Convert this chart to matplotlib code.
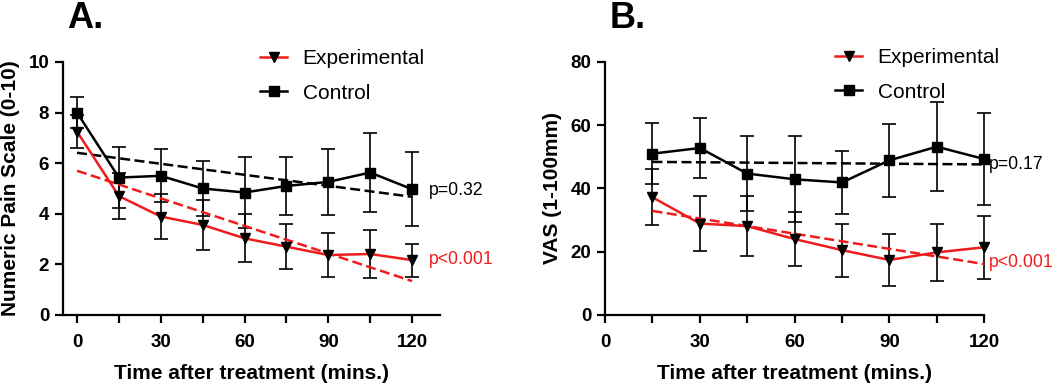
import matplotlib
matplotlib.use("Agg")
import matplotlib.pyplot as plt

plt.rcParams['font.family'] = ['Liberation Sans', 'DejaVu Sans']

# Panel A: numeric pain scale
time_a = [0, 15, 30, 45, 60, 75, 90, 105, 120]
exp_a = [7.25, 4.70, 3.89, 3.56, 3.03, 2.70, 2.37, 2.41, 2.17]
exp_a_err = [0.65, 0.92, 0.90, 1.00, 0.95, 0.90, 0.88, 0.93, 0.65]
ctl_a = [8.0, 5.43, 5.50, 5.00, 4.84, 5.10, 5.26, 5.63, 4.97]
ctl_a_err = [0.62, 1.20, 1.05, 1.10, 1.42, 1.13, 1.30, 1.57, 1.47]
fit_x_a = [0, 120]
exp_fit_a = [5.70, 1.34]
ctl_fit_a = [6.41, 4.67]

# Panel B: VAS
time_b = [15, 30, 45, 60, 75, 90, 105, 120]
exp_b = [37.2, 28.9, 28.1, 24.0, 20.5, 17.4, 19.8, 21.4]
exp_b_err = [8.8, 8.8, 9.6, 8.6, 8.4, 8.2, 9.0, 10.0]
ctl_b = [51.0, 52.8, 44.7, 42.9, 41.9, 48.9, 53.2, 49.3]
ctl_b_err = [9.7, 9.6, 11.8, 13.6, 10.0, 11.6, 14.0, 14.5]
fit_x_b = [15, 120]
exp_fit_b = [32.9, 16.1]
ctl_fit_b = [48.4, 47.6]

RED = '#ee1c1c'

fig = plt.figure(figsize=(10.56, 3.84), dpi=100)
ax_a = fig.add_axes([0.0597, 0.1797, 0.357, 0.659])
ax_b = fig.add_axes([0.573, 0.1797, 0.359, 0.659])


def draw(ax, t, e, ee, c, ce, fx, efit, cfit, leg_xy):
    ax.errorbar(t, c, yerr=ce, fmt='none', ecolor='black', elinewidth=1.2,
                capsize=5, capthick=1.2, zorder=2, clip_on=False)
    ax.errorbar(t, e, yerr=ee, fmt='none', ecolor='black', elinewidth=1.2,
                capsize=5, capthick=1.2, zorder=2, clip_on=False)
    ax.plot(fx, cfit, color='black', lw=1.8, ls=(0, (4, 1.8)), zorder=3, clip_on=False)
    ax.plot(fx, efit, color=RED, lw=1.8, ls=(0, (4, 1.8)), zorder=3, clip_on=False)
    ax.plot(t, e, color=RED, lw=1.8, marker='v', ms=7, mfc='black', mec='black',
            label='Experimental', zorder=4, clip_on=False)
    ax.plot(t, c, color='black', lw=1.8, marker='s', ms=7, mfc='black', mec='black',
            label='Control', zorder=4, clip_on=False)
    for s in ['top', 'right']:
        ax.spines[s].set_visible(False)
    for s in ['left', 'bottom']:
        ax.spines[s].set_linewidth(1.6)
    ax.tick_params(width=1.6, length=6, labelsize=13.5)
    ax.tick_params(axis='x', pad=8)
    ax.tick_params(axis='y', pad=4)
    ax.set_xticks(range(0, 121, 15))
    ax.set_xticklabels([str(v) if v % 30 == 0 else '' for v in range(0, 121, 15)],
                       fontweight='bold')
    ax.set_xlabel('Time after treatment (mins.)', fontsize=15, fontweight='bold', labelpad=9)
    ax.legend(loc='upper left', bbox_to_anchor=leg_xy, bbox_transform=fig.transFigure,
              frameon=False, fontsize=15, handlelength=1.3, handletextpad=0.75,
              labelspacing=0.75, borderpad=0, borderaxespad=0)


draw(ax_a, time_a, exp_a, exp_a_err, ctl_a, ctl_a_err, fit_x_a, exp_fit_a, ctl_fit_a,
     (260 / 1056, 1 - 49 / 384))
ax_a.set_xlim(-5, 130)
ax_a.set_ylim(0, 10)
ax_a.set_yticks([0, 2, 4, 6, 8, 10])
ax_a.set_yticklabels(['0', '2', '4', '6', '8', '10'], fontweight='bold')
ax_a.set_ylabel('Numeric Pain Scale (0-10)', fontsize=15, fontweight='bold', labelpad=6)
ax_a.text(126, 4.9, 'p=0.32', fontsize=12.7, color='black', va='center', ha='left')
ax_a.text(126, 2.2, 'p<0.001', fontsize=12.7, color=RED, va='center', ha='left')

draw(ax_b, time_b, exp_b, exp_b_err, ctl_b, ctl_b_err, fit_x_b, exp_fit_b, ctl_fit_b,
     (835 / 1056, 1 - 48 / 384))
ax_b.set_xlim(0, 120)
ax_b.set_ylim(0, 80)
ax_b.set_yticks([0, 20, 40, 60, 80])
ax_b.set_yticklabels(['0', '20', '40', '60', '80'], fontweight='bold')
ax_b.set_ylabel('VAS (1-100mm)', fontsize=15, fontweight='bold', labelpad=6)
ax_b.text(121.5, 47.6, 'p=0.17', fontsize=12.7, color='black', va='center', ha='left')
ax_b.text(121.5, 16.5, 'p<0.001', fontsize=12.7, color=RED, va='center', ha='left')

fig.text(0.064, 0.953, 'A.', fontsize=26, fontweight='bold', va='center', ha='left')
fig.text(0.577, 0.953, 'B.', fontsize=26, fontweight='bold', va='center', ha='left')

fig.savefig('out.png', dpi=100)
